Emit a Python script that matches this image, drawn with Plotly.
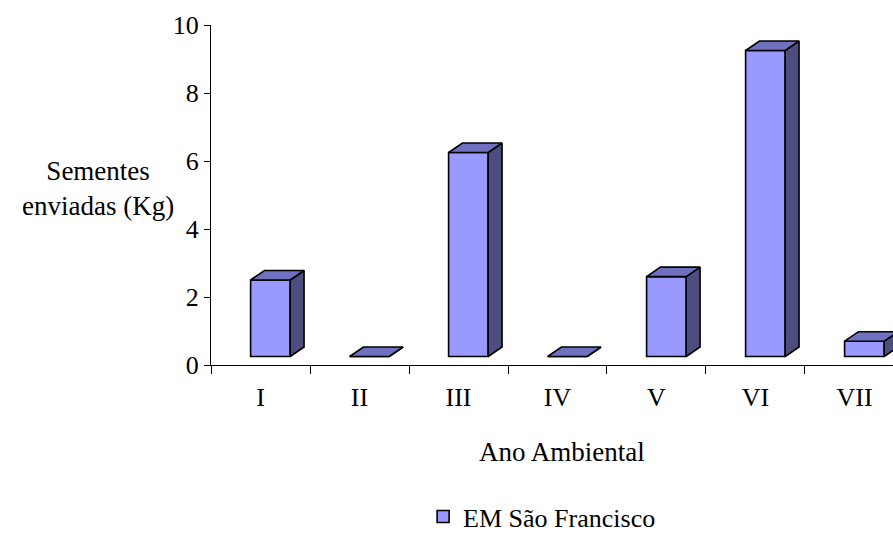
import plotly.graph_objects as go

# Data
categories = ["I", "II", "III", "IV", "V", "VI", "VII"]
seeds_kg = [2.5, 0, 6.25, 0, 2.6, 9.25, 0.7]
series_name = "EM São Francisco"
y_ticks = [0, 2, 4, 6, 8, 10]

# Pseudo-3D column styling (in axis units)
FLOOR = 0.25        # front edge of the floor
DEPTH_X = 0.14      # horizontal depth of each column
DEPTH_Y = 0.28      # vertical depth of each column
LEFT = -0.10        # front face left edge, relative to category centre
WIDTH = 0.40        # front face width

FRONT = "#9999FF"
TOP = "#7070C0"
SIDE = "#4D4D80"
EDGE = dict(color="black", width=1.6)
FONT = "Liberation Serif"

xs = list(range(len(categories)))
tops = [max(v, FLOOR) for v in seeds_kg]

fig = go.Figure()

# Front faces
fig.add_trace(go.Bar(
    x=xs, y=[t - FLOOR for t in tops], base=[FLOOR] * len(xs),
    width=WIDTH, offset=LEFT,
    marker=dict(color=FRONT, line=EDGE),
    name=series_name, showlegend=True, hoverinfo="skip",
))

# Side faces
sx, sy = [], []
for x, t in zip(xs, tops):
    r = x + LEFT + WIDTH
    sx += [r, r + DEPTH_X, r + DEPTH_X, r, r, None]
    sy += [FLOOR, FLOOR + DEPTH_Y, t + DEPTH_Y, t, FLOOR, None]
fig.add_trace(go.Scatter(
    x=sx, y=sy, mode="lines", fill="toself", fillcolor=SIDE,
    line=EDGE, showlegend=False, hoverinfo="skip",
))

# Top faces
tx, ty = [], []
for x, t in zip(xs, tops):
    l = x + LEFT
    r = l + WIDTH
    tx += [l, r, r + DEPTH_X, l + DEPTH_X, l, None]
    ty += [t, t, t + DEPTH_Y, t + DEPTH_Y, t, None]
fig.add_trace(go.Scatter(
    x=tx, y=ty, mode="lines", fill="toself", fillcolor=TOP,
    line=EDGE, showlegend=False, hoverinfo="skip",
))

fig.update_layout(
    width=893, height=540,
    margin=dict(l=211, r=0, t=25, b=175, autoexpand=False),
    paper_bgcolor="white", plot_bgcolor="white",
    font=dict(family=FONT, size=26, color="black"),
    showlegend=True,
    legend=dict(
        orientation="h", x=0.311, y=-0.515, xanchor="left", yanchor="bottom",
        font=dict(family=FONT, size=26, color="black"),
        bgcolor="rgba(0,0,0,0)",
    ),
    xaxis=dict(
        range=[-0.5, 6.389], tickmode="array", tickvals=xs, ticktext=categories,
        ticks="outside", ticklen=9, tickcolor="rgba(0,0,0,0)",
        showline=True, linecolor="black", linewidth=1,
        showgrid=False, zeroline=False,
        minor=dict(tickvals=[i - 0.5 for i in range(len(categories) + 1)],
                   ticks="outside", ticklen=8, tickcolor="black", tickwidth=1,
                   showgrid=False),
        tickfont=dict(family=FONT, size=26),
        fixedrange=True,
    ),
    yaxis=dict(
        range=[0, 10], tickmode="array", tickvals=y_ticks,
        ticks="outside", ticklen=6, tickcolor="black", tickwidth=1,
        showline=True, linecolor="black", linewidth=1,
        showgrid=False, zeroline=False,
        tickfont=dict(family=FONT, size=26),
        fixedrange=True,
    ),
    annotations=[
        dict(text="Ano Ambiental", x=3.05, y=-0.255, xref="x", yref="paper",
             showarrow=False, xanchor="center", yanchor="middle",
             font=dict(family=FONT, size=27)),
        dict(text="Sementes<br>enviadas (Kg)", x=-0.166, y=0.52,
             xref="paper", yref="paper", showarrow=False,
             xanchor="center", yanchor="middle", align="center",
             font=dict(family=FONT, size=27)),
    ],
)

fig.write_html("out.html")
